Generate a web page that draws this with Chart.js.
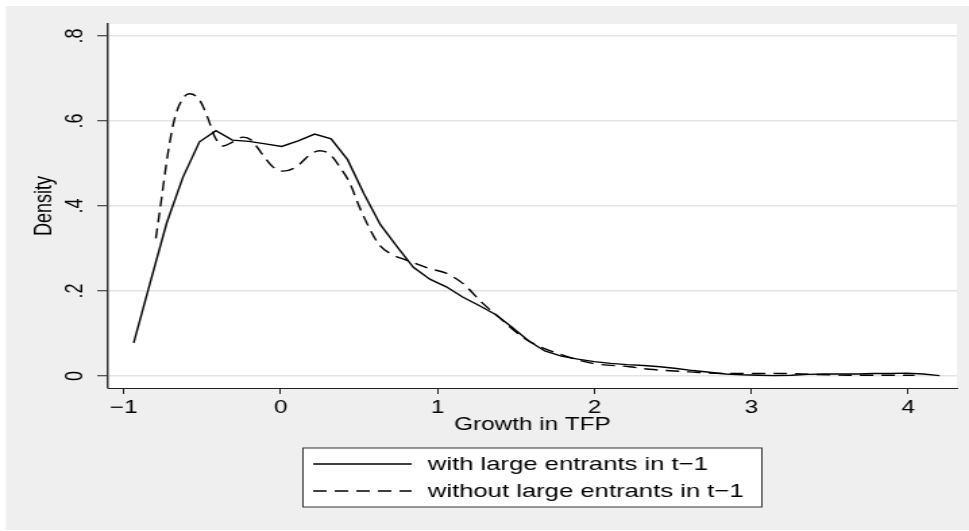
<!DOCTYPE html>
<html>
<head>
<meta charset="utf-8">
<script src="https://cdn.jsdelivr.net/npm/chart.js@4.4.0/dist/chart.umd.min.js"></script>
<style>
  html, body { margin: 0; padding: 0; background: #fff; overflow: hidden; }
  /* the reference is a stretched Stata export, so draw narrow and widen */
  #wrap { width: 718px; height: 531px; transform: scaleX(1.3496); transform-origin: 0 0; }
</style>
</head>
<body>
<div id="wrap"><canvas id="chart" width="718" height="531"></canvas></div>
<script>
// Data
const seriesLabels = ['with large entrants in t\u22121', 'without large entrants in t\u22121'];

const growthSolid = [-0.936, -0.831, -0.726, -0.622, -0.517, -0.412, -0.307, -0.202, -0.097, 0.007,
  0.112, 0.217, 0.322, 0.427, 0.532, 0.636, 0.741, 0.846, 0.951, 1.056,
  1.160, 1.265, 1.370, 1.475, 1.580, 1.684, 1.789, 1.894, 1.999, 2.104,
  2.208, 2.313, 2.418, 2.523, 2.628, 2.733, 2.837, 2.942, 3.047, 3.152,
  3.256, 3.361, 3.466, 3.571, 3.676, 3.781, 3.885, 3.990, 4.095, 4.200];
const densitySolid = [0.078, 0.220, 0.360, 0.468, 0.551, 0.577, 0.555, 0.552, 0.546, 0.540,
  0.553, 0.569, 0.558, 0.509, 0.428, 0.356, 0.305, 0.256, 0.228, 0.210,
  0.186, 0.166, 0.145, 0.115, 0.083, 0.059, 0.047, 0.040, 0.034, 0.030,
  0.027, 0.025, 0.022, 0.018, 0.013, 0.009, 0.005, 0.003, 0.002, 0.001,
  0.002, 0.004, 0.005, 0.005, 0.005, 0.006, 0.006, 0.007, 0.005, 0.001];

const growthDashed = [-0.795, -0.760, -0.718, -0.675, -0.622, -0.580, -0.516, -0.463, -0.420, -0.367,
  -0.304, -0.240, -0.187, -0.113, -0.049, 0.015, 0.100, 0.185, 0.248, 0.312,
  0.390, 0.440, 0.500, 0.570, 0.630, 0.700, 0.800, 0.949, 1.055, 1.161,
  1.289, 1.374, 1.565, 1.777, 1.989, 2.223, 2.350, 2.605, 2.815, 3.200,
  3.620, 4.040];
const densityDashed = [0.324, 0.414, 0.524, 0.606, 0.653, 0.664, 0.649, 0.606, 0.563, 0.541,
  0.551, 0.562, 0.555, 0.520, 0.492, 0.482, 0.492, 0.520, 0.530, 0.522,
  0.485, 0.455, 0.400, 0.345, 0.308, 0.288, 0.273, 0.253, 0.242, 0.218,
  0.171, 0.144, 0.086, 0.052, 0.030, 0.022, 0.016, 0.010, 0.006, 0.006,
  0.002, 0.002];

const xTicks = [-1, 0, 1, 2, 3, 4];
const yTicks = [0, 0.2, 0.4, 0.6, 0.8];

const toPoints = (xs, ys) => xs.map((x, i) => ({ x, y: ys[i] }));
const yLabel = v => (v === 0 ? '0' : String(v).replace(/^0/, ''));

Chart.defaults.font.family = '"Liberation Sans", Arial, sans-serif';
Chart.defaults.color = '#000';

// gray outer panel and white plot region
const backdrop = {
  id: 'backdrop',
  beforeDraw(chart) {
    const { ctx, chartArea: a } = chart;
    ctx.save();
    ctx.fillStyle = '#fff';
    ctx.fillRect(0, 0, chart.width, chart.height);
    ctx.fillStyle = '#efefef';
    ctx.fillRect(4.5, 6, chart.width - 4.5, 524);
    ctx.fillStyle = '#fff';
    ctx.fillRect(a.left, a.top, a.right - a.left, a.bottom - a.top);
    ctx.restore();
  }
};

// Stata style rotated y tick labels
const yTickLabels = {
  id: 'yTickLabels',
  afterDraw(chart) {
    const { ctx } = chart;
    const s = chart.scales.y;
    ctx.save();
    ctx.font = '18px "Liberation Sans", Arial, sans-serif';
    ctx.fillStyle = '#000';
    ctx.textAlign = 'center';
    ctx.textBaseline = 'middle';
    s.ticks.forEach(t => {
      ctx.save();
      ctx.translate(56, s.getPixelForValue(t.value));
      ctx.rotate(-Math.PI / 2);
      ctx.fillText(yLabel(t.value), 0, 0);
      ctx.restore();
    });
    ctx.restore();
  }
};

// boxed legend below the axis title
const boxLegend = {
  id: 'boxLegend',
  afterDraw(chart) {
    const { ctx } = chart;
    const box = { x: 224.5, y: 448, w: 340, h: 59 };
    ctx.save();
    ctx.fillStyle = '#fff';
    ctx.fillRect(box.x, box.y, box.w, box.h);
    ctx.strokeStyle = '#333';
    ctx.lineWidth = 1;
    ctx.strokeRect(box.x, box.y, box.w, box.h);
    ctx.font = '19px "Liberation Sans", Arial, sans-serif';
    ctx.textBaseline = 'middle';
    chart.data.datasets.forEach((ds, i) => {
      const y = 464 + i * 27;
      ctx.beginPath();
      ctx.setLineDash(ds.borderDash || []);
      ctx.strokeStyle = ds.borderColor;
      ctx.lineWidth = ds.borderWidth;
      ctx.moveTo(232, y);
      ctx.lineTo(305, y);
      ctx.stroke();
      ctx.setLineDash([]);
      ctx.fillStyle = '#000';
      ctx.fillText(ds.label, 317, y + 1);
    });
    ctx.restore();
  }
};

new Chart(document.getElementById('chart'), {
  type: 'line',
  data: {
    datasets: [
      {
        label: seriesLabels[0],
        data: toPoints(growthSolid, densitySolid),
        borderColor: '#000',
        borderWidth: 1.4,
        pointRadius: 0,
        tension: 0
      },
      {
        label: seriesLabels[1],
        data: toPoints(growthDashed, densityDashed),
        borderColor: '#000',
        borderWidth: 1.4,
        borderDash: [10, 6],
        pointRadius: 0,
        cubicInterpolationMode: 'monotone'
      }
    ]
  },
  options: {
    responsive: false,
    animation: false,
    devicePixelRatio: 1,
    layout: { padding: { left: 0, top: 24, right: 9, bottom: 0 } },
    plugins: { legend: { display: false }, tooltip: { enabled: false } },
    scales: {
      x: {
        type: 'linear',
        min: -1.1,
        max: 4.31,
        afterBuildTicks: s => { s.ticks = xTicks.map(v => ({ value: v })); },
        afterFit: s => { s.height = 143; },
        ticks: {
          callback: v => String(v).replace('-', '\u2212'),
          font: { size: 18 },
          color: '#000',
          padding: 3,
          maxRotation: 0,
          autoSkip: false
        },
        grid: { drawOnChartArea: false, drawTicks: true, tickLength: 6, tickColor: '#222', tickWidth: 1 },
        border: { display: true, color: '#222', width: 1 },
        title: { display: true, text: 'Growth in TFP', font: { size: 18 }, color: '#000', padding: { top: 0, bottom: 95 } }
      },
      y: {
        min: -0.028,
        max: 0.828,
        afterBuildTicks: s => { s.ticks = yTicks.map(v => ({ value: v })); },
        afterFit: s => { s.width = 80; },
        ticks: { display: false },
        grid: { color: '#e4e4e4', lineWidth: 1.5, drawTicks: true, tickLength: 8, tickColor: '#222', tickWidth: 1 },
        border: { display: true, color: '#333', width: 1.5 },
        title: { display: true, text: 'Density', font: { size: 18 }, color: '#000', padding: { top: 22.5, bottom: 0 } }
      }
    }
  },
  plugins: [backdrop, yTickLabels, boxLegend]
});
</script>
</body>
</html>
